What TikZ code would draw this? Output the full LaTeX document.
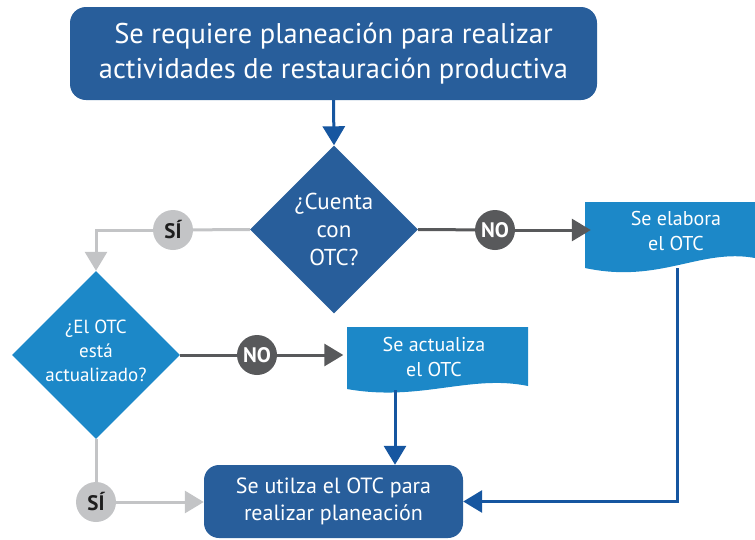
\documentclass[tikz,border=0pt]{standalone}
\usepackage{fontspec}
\setmainfont{PT Sans}
\usetikzlibrary{shapes.geometric,arrows.meta}
\definecolor{dblue}{RGB}{40,94,155}
\definecolor{lblue}{RGB}{28,136,200}
\definecolor{lineblue}{RGB}{22,86,160}
\definecolor{lgray}{RGB}{195,196,198}
\definecolor{dgray}{RGB}{88,89,91}
\definecolor{sitext}{RGB}{30,30,30}
\begin{document}
\begin{tikzpicture}[x=1pt,y=-1pt,
  tip/.style={-{Triangle[width=22pt,length=19pt]}},
  bl/.style={draw=lineblue,line width=3pt},
  gl/.style={draw=lgray,line width=3pt},
  dl/.style={draw=dgray,line width=3pt},
  rbox/.style={rectangle,rounded corners=16pt,fill=dblue,text=white,align=center,inner sep=0pt},
  dia/.style={diamond,aspect=1,minimum width=168pt,minimum height=168pt,inner sep=0pt},
  dtext/.style={text=white,align=center,font=\fontsize{23}{28}\selectfont},
  dtexts/.style={text=white,align=center,font=\fontsize{19}{24}\selectfont},
  doctext/.style={text=white,align=center,font=\fontsize{20}{25}\selectfont,inner sep=0pt},
  sicirc/.style={circle,fill=lgray,minimum size=40pt,inner sep=0pt,text=sitext,font=\fontsize{21}{21}\selectfont\bfseries},
  nocirc/.style={circle,fill=dgray,minimum size=40pt,inner sep=0pt,text=white,font=\fontsize{21}{21}\selectfont\bfseries}
]
\useasboundingbox (0,0) rectangle (755,539);

% top box
\node[rbox,minimum width=527pt,minimum height=93pt,font=\fontsize{28.5}{35}\selectfont] (top) at (333.5,53.5)
  {Se requiere planeación para realizar\\actividades de restauración productiva};

% decision 1
\node[dia,fill=dblue] (d1) at (334,229.5) {};
\node[dtext] (d1t) at (d1) {¿Cuenta\\con\\OTC?};

% decision 2
\node[dia,fill=lblue] (d2) at (96,355) {};
\node[dtexts] (d2t) at (96,351) {¿El OTC\\está\\actualizado?};

% document: Se elabora el OTC
\fill[lblue] (585,202) -- (755,202) -- (755,258) .. controls (700,248) and (660,284) .. (585,268) -- cycle;
\node[doctext,minimum width=170pt,minimum height=58pt] (elab) at (676,231) {Se elabora\\el OTC};
\coordinate (elabb) at (677,268);

% document: Se actualiza el OTC
\fill[lblue] (347,327) -- (528,327) -- (528,386) .. controls (470,374) and (420,402) .. (347,389) -- cycle;
\node[doctext,minimum width=181pt,minimum height=56pt] (act) at (434,357) {Se actualiza\\el OTC};
\coordinate (actb) at (395,390);

% bottom box
\node[rbox,minimum width=259pt,minimum height=73pt,rounded corners=15pt,font=\fontsize{22}{27}\selectfont] (use) at (333.5,501.5)
  {Se utilza el OTC para\\realizar planeación};

% circles
\node[sicirc] (si1) at (173,230) {SÍ};
\node[nocirc] (no1) at (495,230) {NO};
\node[nocirc] (no2) at (257,355) {NO};
\node[sicirc] (si2) at (96,502) {SÍ};

% connectors
\draw[bl,tip] (top.south) -- (d1.north);
\draw[gl] (d1.west) -- (si1);
\draw[gl,tip] (si1) -| (d2.north);
\draw[dl] (d1.east) -- (no1);
\draw[dl,tip] (no1) -- (no1 -| elab.west);
\draw[dl] (d2.east) -- (no2);
\draw[dl,tip] (no2) -- (no2 -| act.west);
\draw[gl] (d2.south) -- (si2);
\draw[gl,tip] (si2) -- (si2 -| use.west);
\draw[bl,tip] (actb) -- (actb |- use.north);
\draw[bl,tip] (elabb) |- (use.east);
\end{tikzpicture}
\end{document}
